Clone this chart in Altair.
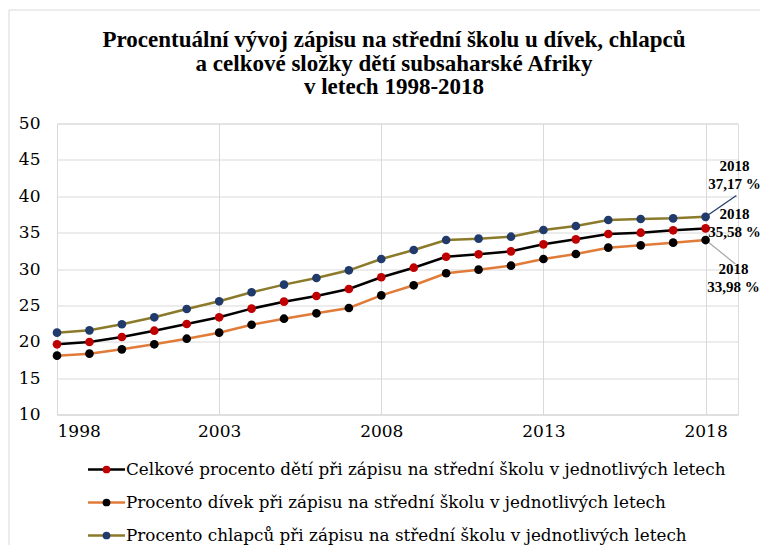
import altair as alt
import pandas as pd

years = list(range(1998, 2019))
total = [19.65, 19.97, 20.65, 21.52, 22.44, 23.36, 24.55, 25.51, 26.29, 27.25, 28.86,
         30.18, 31.69, 32.02, 32.43, 33.39, 34.08, 34.81, 34.99, 35.32, 35.58]
girls = [18.09, 18.36, 18.96, 19.65, 20.42, 21.25, 22.34, 23.17, 23.91, 24.64, 26.38,
         27.76, 29.41, 29.91, 30.46, 31.37, 32.06, 32.93, 33.25, 33.62, 33.98]
boys = [21.25, 21.57, 22.40, 23.36, 24.50, 25.56, 26.80, 27.85, 28.76, 29.82, 31.37,
        32.61, 33.99, 34.17, 34.44, 35.36, 35.91, 36.74, 36.87, 36.96, 37.17]

series_names = [
    "Celkové procento dětí při zápisu na střední školu v jednotlivých letech",
    "Procento dívek při zápisu na střední školu v jednotlivých letech",
    "Procento chlapců při zápisu na střední školu v jednotlivých letech",
]
series_values = [total, girls, boys]
line_colors = ["#000000", "#E07B39", "#8C7A2B"]
dot_colors = ["#C00000", "#000000", "#203A6B"]

end_labels = ["2018\n35,58 %", "2018\n33,98 %", "2018\n37,17 %"]
label_dx = [29, 28, 29]
label_dy = [-21, 22, -58]

title_lines = [
    "Procentuální vývoj zápisu na střední školu u dívek, chlapců",
    "a celkové složky dětí subsaharské Afriky",
    "v letech 1998-2018",
]
x_ticks = [1998, 2003, 2008, 2013, 2018]
y_ticks = [10, 15, 20, 25, 30, 35, 40, 45, 50]

FONT_B = "Liberation Serif, Times New Roman, DejaVu Serif, serif"
FONT_R = "DejaVu Serif"
x_scale = alt.Scale(domain=[1998, 2019], nice=False, zero=False)
y_scale = alt.Scale(domain=[10, 50], nice=False, zero=False)

X = alt.X("year:Q", scale=x_scale,
          axis=alt.Axis(values=x_ticks, format="d", title=None,
                        grid=True, gridColor="#d9d9d9", domainColor="#d9d9d9",
                        ticks=False, labelFont=FONT_R, labelFontSize=17,
                        labelColor="#000000", labelPadding=9, labelOverlap=False))
Y = alt.Y("value:Q", scale=y_scale,
          axis=alt.Axis(values=y_ticks, title=None, grid=True,
                        gridColor="#d9d9d9", domain=False, ticks=False,
                        labelFont=FONT_R, labelFontSize=17, labelColor="#000000",
                        labelPadding=17, labelOverlap=False))

layers = []

# outer frame (top and left edges)
frame_df = pd.DataFrame({"k": [0]})
layers.append(alt.Chart(frame_df).mark_rule(color="#d9d9d9", strokeWidth=1).encode(
    x=alt.value(-48), x2=alt.value(703), y=alt.value(-113.5)))
layers.append(alt.Chart(frame_df).mark_rule(color="#d9d9d9", strokeWidth=1).encode(
    x=alt.value(-48), y=alt.value(-113.5), y2=alt.value(500)))

# title
title_y = [-83.5, -60, -36.5]
for i in range(3):
    tdf = pd.DataFrame({"t": [title_lines[i]]})
    layers.append(alt.Chart(tdf).mark_text(
        font=FONT_B, fontSize=23, fontWeight="bold", color="#000000",
        align="center", baseline="middle").encode(
        x=alt.value(337), y=alt.value(title_y[i]), text="t:N"))

for i in range(3):
    df = pd.DataFrame({"year": years, "value": series_values[i]})
    layers.append(alt.Chart(df).mark_line(color=line_colors[i], strokeWidth=2.5).encode(
        x=X, y=Y))

# connector lines for end labels
conn_df = pd.DataFrame({
    "year": [2018, 2018], "value": [boys[-1], girls[-1]],
    "year2": [2018.95, 2018.92], "value2": [40.1, 30.7],
    "c": [dot_colors[2], "#a6a6a6"],
})
layers.append(alt.Chart(conn_df).mark_rule(strokeWidth=1.2).encode(
    x=X, y=Y, x2="year2:Q", y2="value2:Q", color=alt.Color("c:N", scale=None)))

for i in range(3):
    df = pd.DataFrame({"year": years, "value": series_values[i]})
    layers.append(alt.Chart(df).mark_circle(color=dot_colors[i], size=75, opacity=1).encode(
        x=X, y=Y))

for i in range(3):
    ldf = pd.DataFrame({"year": [years[-1]], "value": [series_values[i][-1]], "t": [end_labels[i]]})
    layers.append(alt.Chart(ldf).mark_text(
        font=FONT_B, fontSize=15, fontWeight="bold", color="#000000", align="center",
        baseline="top", lineBreak="\n", lineHeight=18, dx=label_dx[i], dy=label_dy[i]).encode(
        x=X, y=Y, text="t:N"))

# legend
leg_y = [346, 379, 412]
for i in range(3):
    ldf = pd.DataFrame({"name": [series_names[i]]})
    layers.append(alt.Chart(ldf).mark_rule(color=line_colors[i], strokeWidth=2.5).encode(
        x=alt.value(31), x2=alt.value(68), y=alt.value(leg_y[i])))
    layers.append(alt.Chart(ldf).mark_circle(color=dot_colors[i], size=60, opacity=1).encode(
        x=alt.value(49.5), y=alt.value(leg_y[i])))
    layers.append(alt.Chart(ldf).mark_text(
        font=FONT_R, fontSize=16.8, color="#000000", align="left", baseline="middle").encode(
        x=alt.value(69), y=alt.value(leg_y[i]), text="name:N"))

chart = alt.layer(*layers).properties(
    width=681, height=291,
    autosize=alt.AutoSizeParams(type="none"),
    padding={"left": 49, "top": 115.5, "right": 23, "bottom": 130},
).configure_view(stroke=None).configure(background="#ffffff")

chart.save("out.html", embed_options={"renderer": "svg", "actions": False})
